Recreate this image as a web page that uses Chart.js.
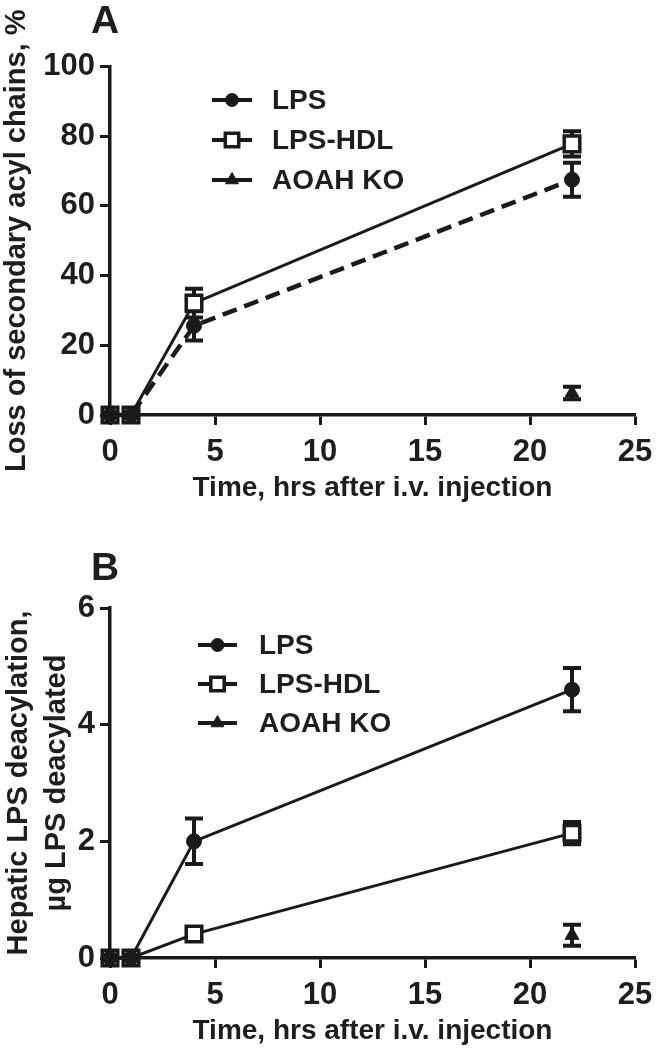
<!DOCTYPE html>
<html><head><meta charset="utf-8">
<script src="https://cdn.jsdelivr.net/npm/chart.js@4.4.1/dist/chart.umd.min.js"></script>
<style>
html,body{margin:0;padding:0;background:#fff;}
#wrap{position:relative;width:656px;height:1050px;overflow:hidden;background:#fff;}
.panel{position:absolute;left:0;width:656px;height:525px;}
.letter{position:absolute;font-family:"Liberation Sans",Arial,sans-serif;font-weight:bold;font-size:39px;line-height:39px;color:#1e1e1e;}
</style></head><body>
<div id="wrap">
<div class="panel" style="top:0"><canvas id="cA" width="656" height="525"></canvas></div>
<div class="panel" style="top:525px"><canvas id="cB" width="656" height="525"></canvas></div>
<div class="letter" style="left:91px;top:0">A</div>
<div class="letter" style="left:91px;top:547px">B</div>
</div>
<script>
// ---------- data ----------
const timeHrs = [0, 1, 4, 22];
const seriesNames = ['LPS', 'LPS-HDL', 'AOAH KO'];
const xTicks = [0, 5, 10, 15, 20, 25];

// Panel A: loss of secondary acyl chains, %
const lossLps = [0, 0, 25.6, 67.5];
const lossLpsErr = [0, 0, 4.2, 4.9];
const lossHdl = [0, 0, 32.1, 77.8];
const lossHdlErr = [0, 0, 4.1, 3.6];
const lossKo = [0, 0, null, 6.3];
const lossKoErr = [0, 0, null, 1.8];
const yTicksA = [0, 20, 40, 60, 80, 100];

// Panel B: hepatic LPS deacylation, µg
const hepLps = [0, 0, 2.0, 4.6];
const hepLpsErr = [0, 0, 0.39, 0.37];
const hepHdl = [0, 0, 0.41, 2.14];
const hepHdlErr = [0, 0, 0.05, 0.19];
const hepKo = [0, 0, null, 0.39];
const hepKoErr = [0, 0, null, 0.18];
const yTicksB = [0, 2, 4, 6];

// ---------- styling ----------
const INK = '#1a1a1a';
const TXT = '#1e1e1e';
const FAM = '"Liberation Sans", Arial, Helvetica, sans-serif';

function pts(vals) { return timeHrs.map((t, i) => ({ x: t, y: vals[i] })); }

function drawMarker(ctx, style, x, y, r, fill, bw) {
  ctx.save();
  ctx.setLineDash([]);
  ctx.lineWidth = bw;
  ctx.strokeStyle = INK;
  ctx.fillStyle = fill;
  ctx.beginPath();
  if (style === 'circle') ctx.arc(x, y, r, 0, Math.PI * 2);
  else if (style === 'rect') { const h = r * Math.SQRT1_2; ctx.rect(x - h, y - h, 2 * h, 2 * h); }
  else {
    for (let k = 0; k < 3; k++) {
      const a = k * 2 * Math.PI / 3;
      const px = x + Math.sin(a) * r, py = y - Math.cos(a) * r;
      if (k) ctx.lineTo(px, py); else ctx.moveTo(px, py);
    }
    ctx.closePath();
  }
  ctx.fill(); ctx.stroke();
  ctx.restore();
}

const errorBars = {
  id: 'errorBars',
  beforeDatasetsDraw(chart) {
    const ctx = chart.ctx, xs = chart.scales.x, ys = chart.scales.y;
    chart.data.datasets.forEach(ds => {
      if (!ds.errors) return;
      ds.data.forEach((p, i) => {
        const e = ds.errors[i];
        if (p.y == null || !e) return;
        const px = xs.getPixelForValue(p.x);
        const top = ys.getPixelForValue(p.y + e), bot = ys.getPixelForValue(p.y - e);
        ctx.save();
        ctx.setLineDash([]);
        ctx.strokeStyle = INK; ctx.lineWidth = 4; ctx.lineCap = 'butt';
        ctx.beginPath();
        ctx.moveTo(px, top); ctx.lineTo(px, bot);
        ctx.moveTo(px - 9, top); ctx.lineTo(px + 9, top);
        ctx.moveTo(px - 9, bot); ctx.lineTo(px + 9, bot);
        ctx.stroke();
        ctx.restore();
      });
    });
  }
};

const miniLegend = {
  id: 'miniLegend',
  afterDraw(chart, args, o) {
    const ctx = chart.ctx;
    const styles = [['circle', INK, 6.5], ['rect', '#fff', 9.5], ['triangle', INK, 7.5]];
    seriesNames.forEach((name, i) => {
      const y = o.rows[i];
      ctx.save();
      ctx.strokeStyle = INK; ctx.lineWidth = 4; ctx.setLineDash([]);
      ctx.beginPath(); ctx.moveTo(o.x0, y); ctx.lineTo(o.x1, y); ctx.stroke();
      ctx.restore();
      const s = styles[i];
      drawMarker(ctx, s[0], (o.x0 + o.x1) / 2, y, s[2], s[1], s[0] === 'rect' ? 3.5 : 1);
      ctx.save();
      ctx.fillStyle = TXT;
      ctx.font = 'bold 28px ' + FAM;
      ctx.textBaseline = 'middle';
      ctx.textAlign = 'left';
      ctx.fillText(name, o.textX, y + 1);
      ctx.restore();
    });
  }
};

function makeChart(id, cfg) {
  const ds = [
    { label: seriesNames[0], data: pts(cfg.lps), errors: cfg.lpsErr, borderColor: INK,
      borderWidth: cfg.lpsDash ? 4.5 : 3, borderDash: cfg.lpsDash ? [15, 8] : [],
      pointStyle: 'circle', pointRadius: 7.5, pointBackgroundColor: INK, pointBorderColor: INK, pointBorderWidth: 1 },
    { label: seriesNames[1], data: pts(cfg.hdl), errors: cfg.hdlErr, borderColor: INK, borderWidth: 3,
      pointStyle: 'rect', pointRadius: 11, pointBackgroundColor: '#fff', pointBorderColor: INK, pointBorderWidth: 3.5 },
    { label: seriesNames[2], data: pts(cfg.ko), errors: cfg.koErr, borderColor: INK, borderWidth: 3,
      pointStyle: 'triangle', pointRadius: 8, pointBackgroundColor: INK, pointBorderColor: INK, pointBorderWidth: 1 }
  ];
  ds.forEach(d => { d.clip = false; d.tension = 0; d.fill = false; d.spanGaps = false; });
  const tickFont = { family: FAM, size: 31, weight: 'bold' };
  return new Chart(document.getElementById(id), {
    type: 'line',
    data: { datasets: ds },
    options: {
      responsive: false, animation: false, devicePixelRatio: 1,
      layout: { padding: { top: cfg.padTop, right: 21, bottom: cfg.padBottom, left: 0 } },
      plugins: { legend: { display: false }, tooltip: { enabled: false }, miniLegend: cfg.legend },
      scales: {
        x: {
          type: 'linear', min: 0, max: 25,
          afterBuildTicks: s => { s.ticks = xTicks.map(v => ({ value: v })); },
          afterFit: s => { s.height = 90; s.paddingLeft = 0; s.paddingRight = 0; },
          ticks: { color: TXT, font: tickFont, padding: 9, maxRotation: 0, autoSkip: false },
          grid: { display: true, drawOnChartArea: false, drawTicks: true, tickLength: 10, tickWidth: 3, tickColor: INK },
          border: { display: true, color: INK, width: 3.5 },
          title: { display: true, text: 'Time, hrs after i.v. injection', color: TXT,
                   font: { family: FAM, size: 28, weight: 'bold' }, padding: { top: 0, bottom: 0 } }
        },
        y: {
          type: 'linear', min: 0, max: cfg.yMax,
          afterBuildTicks: s => { s.ticks = cfg.yTicks.map(v => ({ value: v })); },
          afterFit: s => { s.width = 110; s.paddingTop = 0; s.paddingBottom = 0; },
          ticks: { color: TXT, font: tickFont, padding: 5, autoSkip: false },
          grid: { display: true, drawOnChartArea: false, drawTicks: true, tickLength: 10, tickWidth: 3, tickColor: INK },
          border: { display: true, color: INK, width: 3.5 },
          title: { display: true, text: cfg.yTitle, color: TXT,
                   font: { family: FAM, size: 29, weight: 'bold', lineHeight: cfg.yTitleLH }, padding: { top: 0, bottom: 0 } }
        }
      }
    },
    plugins: [errorBars, miniLegend]
  });
}

makeChart('cA', {
  lps: lossLps, lpsErr: lossLpsErr, hdl: lossHdl, hdlErr: lossHdlErr, ko: lossKo, koErr: lossKoErr,
  lpsDash: true, yMax: 100, yTicks: yTicksA, yTitle: 'Loss of secondary acyl chains, %', yTitleLH: 1.2,
  padTop: 66.5, padBottom: 20,
  legend: { x0: 212, x1: 252, textX: 272, rows: [100, 140, 180] }
});
makeChart('cB', {
  lps: hepLps, lpsErr: hepLpsErr, hdl: hepHdl, hdlErr: hepHdlErr, ko: hepKo, koErr: hepKoErr,
  lpsDash: false, yMax: 6, yTicks: yTicksB, yTitle: ['Hepatic LPS deacylation,', 'µg LPS deacylated'], yTitleLH: 1.3,
  padTop: 83, padBottom: 2,
  legend: { x0: 198, x1: 237, textX: 259, rows: [120, 159, 198] }
});
</script>
</body></html>
